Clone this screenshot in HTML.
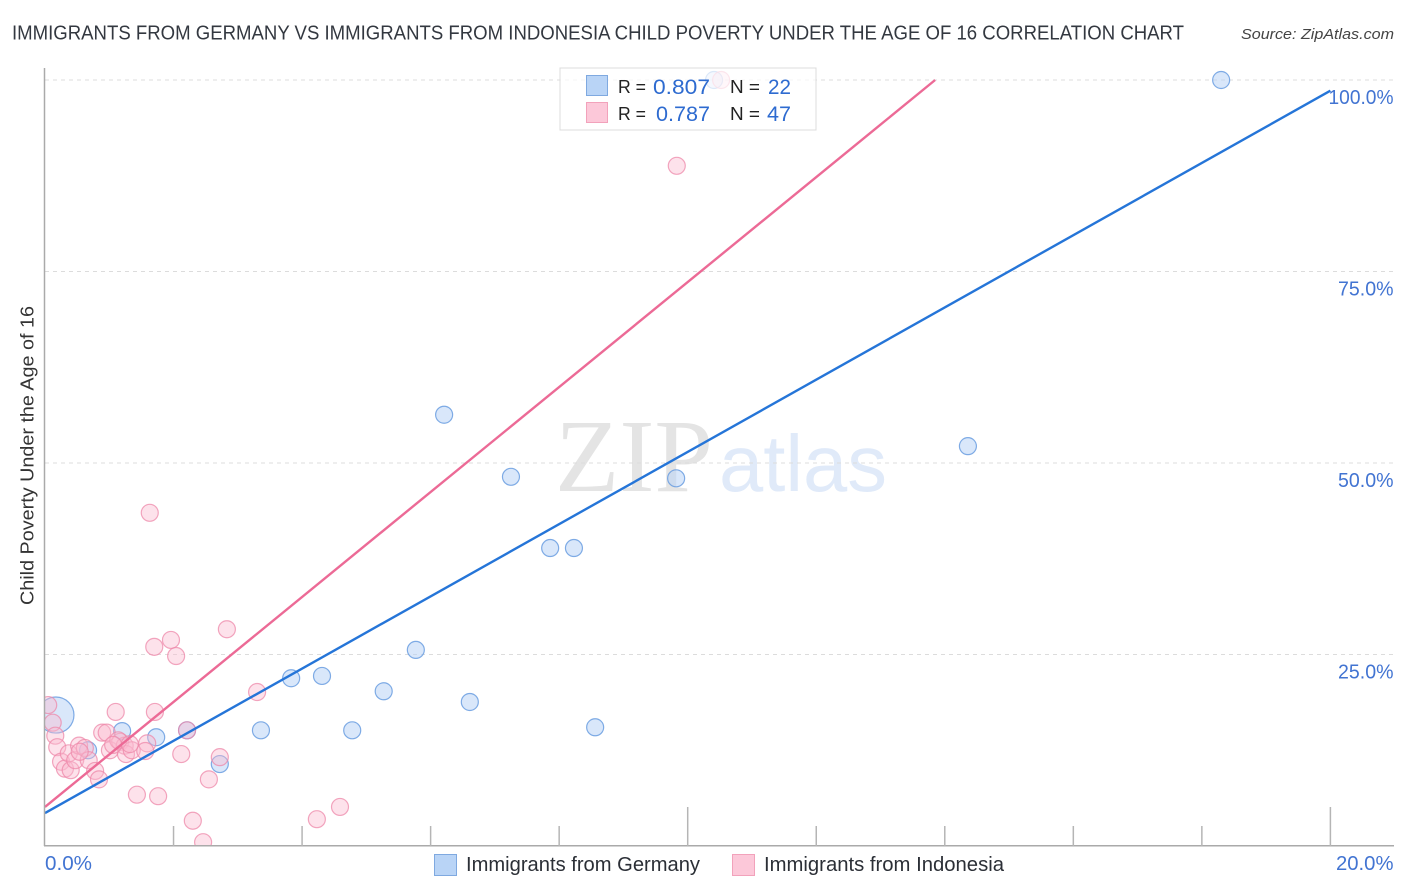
<!DOCTYPE html>
<html lang="en">
<head>
<meta charset="utf-8">
<title>Immigrants from Germany vs Immigrants from Indonesia Child Poverty Correlation Chart</title>
<style>
html,body{margin:0;padding:0;background:#fff;width:1406px;height:892px;overflow:hidden}
svg{display:block}
text{font-family:"Liberation Sans",sans-serif}
</style>
</head>
<body>
<svg id="chart" xmlns="http://www.w3.org/2000/svg" width="1406" height="892" viewBox="0 0 1406 892">
  <defs>
    <clipPath id="plot-clip"><rect x="45" y="60" width="1349" height="785"/></clipPath>
  </defs>
  <text x="12" y="39.500" font-size="20" fill="#333840" textLength="1172" lengthAdjust="spacingAndGlyphs">IMMIGRANTS FROM GERMANY VS IMMIGRANTS FROM INDONESIA CHILD POVERTY UNDER THE AGE OF 16 CORRELATION CHART</text>
  <text x="1241" y="39" font-size="15" font-style="italic" fill="#444" textLength="153" lengthAdjust="spacingAndGlyphs">Source: ZipAtlas.com</text>

  <g id="watermark">
    <text x="555" y="491" font-size="104" style="font-family:'Liberation Serif',serif" fill="#e4e4e4" textLength="158" lengthAdjust="spacingAndGlyphs">ZIP</text>
    <text x="719" y="491" font-size="80" fill="#e0eaf9" textLength="168" lengthAdjust="spacingAndGlyphs">atlas</text>
  </g>

  <g id="grid"></g>
  <g id="points" clip-path="url(#plot-clip)"></g>
  <g id="trends"></g>
  <g id="axes"></g>

  <text transform="translate(33.500,605) rotate(-90)" font-size="18" fill="#333" textLength="299" lengthAdjust="spacingAndGlyphs">Child Poverty Under the Age of 16</text>

  <g>
    <rect x="560" y="68" width="256" height="62" fill="#fff" fill-opacity="0.72" stroke="#dcdcdc" stroke-width="1"/>
    <rect x="586.500" y="75.500" width="21" height="20" fill="#b9d4f6" stroke="#7fa9e0"/>
    <rect x="586.500" y="102.500" width="21" height="20" fill="#fcc8d9" stroke="#f2a2bb"/>
    <text x="618" y="93" font-size="18" fill="#222" textLength="28" lengthAdjust="spacingAndGlyphs">R =</text>
    <text x="653" y="94" font-size="21" fill="#2e6bd0" textLength="57" lengthAdjust="spacingAndGlyphs">0.807</text>
    <text x="730" y="93" font-size="18" fill="#222" textLength="30" lengthAdjust="spacingAndGlyphs">N =</text>
    <text x="768" y="94" font-size="21" fill="#2e6bd0" textLength="23" lengthAdjust="spacingAndGlyphs">22</text>
    <text x="618" y="120" font-size="18" fill="#222" textLength="28" lengthAdjust="spacingAndGlyphs">R =</text>
    <text x="656" y="121" font-size="21" fill="#2e6bd0" textLength="54" lengthAdjust="spacingAndGlyphs">0.787</text>
    <text x="730" y="120" font-size="18" fill="#222" textLength="30" lengthAdjust="spacingAndGlyphs">N =</text>
    <text x="767" y="121" font-size="21" fill="#2e6bd0" textLength="24" lengthAdjust="spacingAndGlyphs">47</text>
  </g>

  <g>
    <rect x="434.500" y="854.500" width="22" height="21" fill="#b9d4f6" stroke="#7fa9e0"/>
    <text x="466" y="871" font-size="20" fill="#2b2f36" textLength="234" lengthAdjust="spacingAndGlyphs">Immigrants from Germany</text>
    <rect x="732.500" y="854.500" width="22" height="21" fill="#fcc8d9" stroke="#f2a2bb"/>
    <text x="764" y="871" font-size="20" fill="#2b2f36" textLength="240" lengthAdjust="spacingAndGlyphs">Immigrants from Indonesia</text>
  </g>
</svg>
<script>
var xTicks = [0, 2, 4, 6, 8, 10, 12, 14, 16, 18, 20];
var yTicks = [25, 50, 75, 100];
var yTickLabels = ['25.0%', '50.0%', '75.0%', '100.0%'];
var xEndLabels = ['0.0%', '20.0%'];

var germanyX = [18.30, 6.21, 14.36, 7.25, 9.82, 7.86, 8.23, 5.77, 3.83, 4.31, 5.27, 6.61, 8.56, 3.36, 4.78, 2.21, 1.20, 1.73, 0.67, 2.72, 0.17, 10.41];
var germanyY = [100, 56.3, 52.2, 48.2, 48.0, 38.9, 38.9, 25.6, 21.9, 22.2, 20.2, 18.8, 15.5, 15.1, 15.1, 15.1, 15.0, 14.2, 12.5, 10.7, 17.1, 100];
var germanyWeight = [1, 1, 1, 1, 1, 1, 1, 1, 1, 1, 1, 1, 1, 1, 1, 1, 1, 1, 1, 1, 4.5, 1];

var indonesiaX = [10.52, 9.83, 1.63, 2.83, 1.96, 1.70, 2.04, 3.30, 1.10, 1.71, 0.05, 0.12, 0.16, 0.19, 0.25, 0.31, 0.40, 0.37, 0.47, 0.53, 0.62, 0.68, 0.78, 0.84, 0.89, 0.96, 1.01, 1.17, 1.24, 1.26, 1.35, 1.59, 1.56, 2.21, 2.12, 2.72, 2.55, 1.43, 1.76, 2.30, 2.46, 4.23, 4.59, 1.14, 1.32, 1.06, 0.54];
var indonesiaY = [100, 88.8, 43.5, 28.3, 26.9, 26.0, 24.8, 20.1, 17.5, 17.5, 18.4, 16.1, 14.4, 12.9, 11.0, 10.1, 9.9, 12.1, 11.2, 13.1, 12.8, 11.2, 9.8, 8.7, 14.8, 14.8, 12.5, 13.6, 13.1, 12.0, 12.5, 13.4, 12.4, 15.1, 12.0, 11.6, 8.7, 6.7, 6.5, 3.3, 0.5, 3.5, 5.1, 13.8, 13.3, 13.2, 12.3];

var germanyTrendX = [0, 20];
var germanyTrendY = [4.3, 98.6];
var indonesiaTrendX = [0, 13.85];
var indonesiaTrendY = [5.1, 100];

var SVG_NS = 'http://www.w3.org/2000/svg';
function sx(v) { return 45 + v * 64.27; }
function sy(v) { return 846 - v * 7.66; }
function mk(tag, parent, attrs) {
  var el = document.createElementNS(SVG_NS, tag);
  for (var k in attrs) { el.setAttribute(k, attrs[k]); }
  parent.appendChild(el);
  return el;
}
function labelWidth(s) { return s.length * 9.5 + 8; }

var grid = document.getElementById('grid');
var axes = document.getElementById('axes');
var points = document.getElementById('points');
var trends = document.getElementById('trends');

yTicks.forEach(function (t, i) {
  var g = mk('line', grid, {x1: 45, x2: 1394, y1: sy(t), y2: sy(t), stroke: '#dcdcdc', 'stroke-width': 1, 'stroke-dasharray': '4 4'});
  
  
  var w = labelWidth(yTickLabels[i]);
  var lab = mk('text', axes, {x: 1393.500 - w, y: sy(t) + 24, 'font-size': 20, fill: '#4274d2', textLength: w, lengthAdjust: 'spacingAndGlyphs'});
  
  
  lab.textContent = yTickLabels[i];
});

var yAxis = mk('line', axes, {x1: 44.500, x2: 44.500, y1: 68, y2: 846, stroke: '#aaaaaa', 'stroke-width': 1.500});


var xAxis = mk('line', axes, {x1: 44, x2: 1394, y1: 845.700, y2: 845.700, stroke: '#aaaaaa', 'stroke-width': 1.500});



xTicks.forEach(function (t) {
  if (t === 0) { return; }
  var top = (t % 10 === 0) ? 807 : 826;
  var tick = mk('line', axes, {x1: sx(t), x2: sx(t), y1: top, y2: 846, stroke: '#b5b5b5', 'stroke-width': 1.500});
  
  
});

var xLabel0 = mk('text', axes, {x: 45, y: 870, 'font-size': 20, fill: '#4274d2', textLength: 47, lengthAdjust: 'spacingAndGlyphs'});


xLabel0.textContent = xEndLabels[0];
var xLabel1 = mk('text', axes, {x: 1336, y: 870, 'font-size': 20, fill: '#4274d2', textLength: 57.500, lengthAdjust: 'spacingAndGlyphs'});


xLabel1.textContent = xEndLabels[1];

germanyX.forEach(function (v, i) {
  var c = mk('circle', points, {cx: sx(v), cy: sy(germanyY[i]), r: 8.500 * Math.sqrt(germanyWeight[i]), fill: '#b9d4f6', 'fill-opacity': 0.55, stroke: '#6a9ee0', 'stroke-opacity': 0.85, 'stroke-width': 1.200});
  
  
});
indonesiaX.forEach(function (v, i) {
  var c = mk('circle', points, {cx: sx(v), cy: sy(indonesiaY[i]), r: 8.500, fill: '#fbb9cf', 'fill-opacity': 0.42, stroke: '#ee88aa', 'stroke-opacity': 0.75, 'stroke-width': 1.200});
  
  
});

var lineI = mk('line', trends, {x1: sx(indonesiaTrendX[0]), y1: sy(indonesiaTrendY[0]), x2: sx(indonesiaTrendX[1]), y2: sy(indonesiaTrendY[1]), stroke: '#ec6a96', 'stroke-width': 2.400});


var lineG = mk('line', trends, {x1: sx(germanyTrendX[0]), y1: sy(germanyTrendY[0]), x2: sx(germanyTrendX[1]), y2: sy(germanyTrendY[1]), stroke: '#2575d8', 'stroke-width': 2.400});


</script>
</body>
</html>
